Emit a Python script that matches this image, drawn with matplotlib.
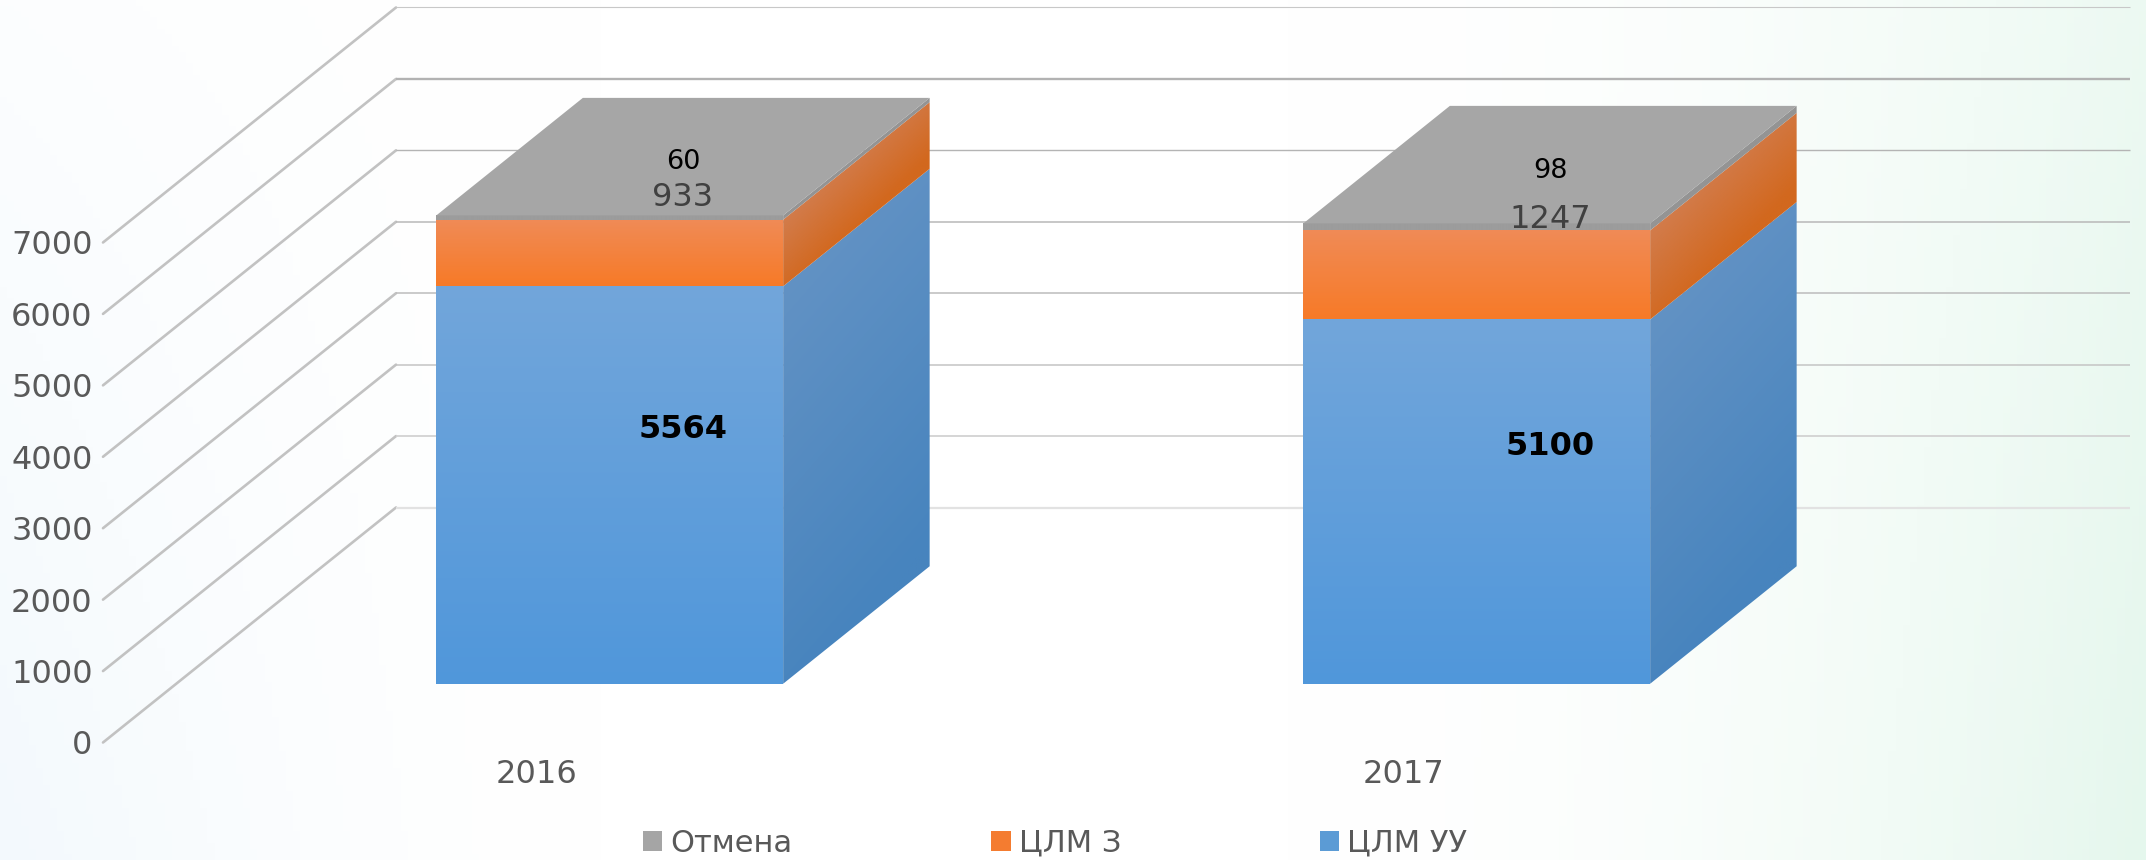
import numpy as np
import matplotlib
matplotlib.use("Agg")
import matplotlib.pyplot as plt
from matplotlib.colors import to_rgb
from matplotlib.patches import Patch, Polygon

# ---------- data ----------
categories = ["2016", "2017"]
series_names = ["ЦЛМ УУ", "ЦЛМ З", "Отмена"]
cluu = [5564, 5100]
clmz = [933, 1247]
cancel = [60, 98]
y_ticks = [0, 1000, 2000, 3000, 4000, 5000, 6000, 7000]

# ---------- style ----------
W, H = 2146, 860
X0_PX, Y0_PX = 103, 742.5        # origin of the front plane
CAT_PX, K_PX = 867, 71.43        # pixels per category / per 1000 units
DX = 293 / CAT_PX                # depth shear, category units
DY = 235 / K_PX * 1000           # depth shear, value units
BAR_W = 0.4
D0, D1 = 0.25, 0.75
TXT = "#595959"
grid_colors = ["#E2E2E2", "#D2D2D2", "#C4C4C4", "#BCBCBC", "#B8B8B8", "#B4B4B4", "#B2B2B2", "#C8C8C8"]
grid_widths = [1.6, 1.3, 1.1, 1.1, 1.1, 1.0, 1.7, 0.8]

FRONT = {"blue": ("#72A6DB", "#5097DA"), "orange": ("#F08B57", "#F77A27"), "grey": ("#9C9C9C", "#9C9C9C")}
SIDE = {"blue": ("#6292C4", "#4784BE"), "orange": ("#D27C4C", "#D2681E"), "grey": ("#949494", "#949494")}
TOP = "#A6A6A6"
LEGEND = {"ЦЛМ УУ": "#5B9BD5", "ЦЛМ З": "#F47C30", "Отмена": "#A5A5A5"}

fig = plt.figure(figsize=(W / 100, H / 100), dpi=100)
ax = fig.add_axes([0, 0, 1, 1])
xlim = (-X0_PX / CAT_PX, (W - X0_PX) / CAT_PX)
ylim = (-(H - Y0_PX) / K_PX * 1000, Y0_PX / K_PX * 1000)


def proj(x, y, d):
    return x + d * DX, y + d * DY


def fill_grad(poly_pts, field, c0, c1, z):
    """Fill a polygon with colour field(x, y) in 0..1 running c0 -> c1."""
    pts = np.array(poly_pts)
    x0, x1 = pts[:, 0].min(), pts[:, 0].max()
    y0, y1 = pts[:, 1].min(), pts[:, 1].max()
    xs = np.linspace(x0, x1, 200)
    ys = np.linspace(y0, y1, 400)
    X, Y = np.meshgrid(xs, ys)
    t = np.clip(field(X, Y), 0, 1)[..., None]
    img = (1 - t) * np.array(to_rgb(c0)) + t * np.array(to_rgb(c1))
    im = ax.imshow(img, extent=(x0, x1, y0, y1), origin="lower", aspect="auto",
                   zorder=z, interpolation="bilinear")
    patch = Polygon(pts, closed=True, transform=ax.transData, fc="none", ec="none")
    ax.add_patch(patch)
    im.set_clip_path(patch)


def label(x, y, s, **kw):
    ax.annotate(s, (x, y), xytext=(0, -2.3), textcoords="offset points",
                ha="center", va="center", zorder=5, **kw)


# ---------- background ----------
u, v = np.meshgrid(np.linspace(0, 1, 300), np.linspace(0, 1, 150))
left = np.clip(1 - u / 0.28, 0, 1) ** 1.6 * (0.25 + 0.75 * v)
right = np.clip((u - 0.6) / 0.4, 0, 1) ** 1.9 * (0.72 + 0.28 * v)
bg = np.ones(u.shape + (3,))
bg = bg * (1 - left[..., None]) + np.array(to_rgb("#F3F9FD")) * left[..., None]
bg = bg * (1 - right[..., None]) + np.array(to_rgb("#E5F7ED")) * right[..., None]
ax.imshow(bg, extent=(*xlim, ylim[1], ylim[0]), origin="lower", aspect="auto", zorder=0)

# ---------- walls ----------
for val, col, lw in zip(y_ticks, grid_colors, grid_widths):
    a = proj(0, val, 0)
    b = proj(0, val, 1)
    c = proj(2, val, 1)
    ax.plot([a[0], b[0]], [a[1], b[1]], color="#C2C2C2", lw=1.9, zorder=1, solid_capstyle="round")
    ax.plot([b[0], c[0]], [b[1], c[1]], color=col, lw=lw, zorder=1, solid_capstyle="butt")

# ---------- bars ----------
stack = [("blue", cluu), ("orange", clmz), ("grey", cancel)]
for i in range(len(categories)):
    xl = i + 0.5 - BAR_W / 2
    xr = xl + BAR_W
    base = 0
    for name, vals in stack:
        top = base + vals[i]
        # front face
        front = [proj(xl, base, D0), proj(xr, base, D0), proj(xr, top, D0), proj(xl, top, D0)]
        yb, yt = proj(0, base, D0)[1], proj(0, top, D0)[1]
        fill_grad(front, lambda X, Y, yb=yb, yt=yt: (yt - Y) / (yt - yb), *FRONT[name], 3)
        # side face
        side = [proj(xr, base, D0), proj(xr, base, D1), proj(xr, top, D1), proj(xr, top, D0)]
        xs0 = proj(xr, 0, D0)[0]
        span = DX * (D1 - D0)
        tilt = 0.12 if name == "blue" else 0.3

        def side_field(X, Y, xs0=xs0, span=span, yb=yb, yt=yt, tilt=tilt):
            w = (X - xs0) / span
            Yf = Y - w * (D1 - D0) * DY
            return (1 - tilt / 2) * (yt - Yf) / (yt - yb) + tilt * w

        fill_grad(side, side_field, *SIDE[name], 3)
        base = top
    # top face
    ax.add_patch(Polygon([proj(xl, base, D0), proj(xr, base, D0), proj(xr, base, D1), proj(xl, base, D1)],
                         closed=True, fc=TOP, ec="none", zorder=3))

    # data labels
    b1, b2 = cluu[i], clmz[i]
    label(*proj(i + 0.5, b1 / 2, 0.5), str(b1), fontsize=23, fontweight="bold", color="black")
    label(*proj(i + 0.5, b1 + b2 / 2, 0.5), str(b2), fontsize=23, color="#404040")
    label(*proj(i + 0.5, b1 + b2 + cancel[i] / 2, 0.5), str(cancel[i]), fontsize=19.5, color="black")

# ---------- axes ----------
ax.set_xlim(*xlim)
ax.set_ylim(*ylim)
for s in ax.spines.values():
    s.set_visible(False)
ax.spines["left"].set_position(("data", 0))
ax.spines["bottom"].set_position(("data", 0))
ax.set_yticks(y_ticks)
ax.set_yticklabels([str(t) for t in y_ticks])
ax.set_yticks(y_ticks)
ax.set_xticks([0.5, 1.5])
ax.set_xticklabels(categories)
ax.tick_params(axis="both", length=0, labelsize=23, labelcolor=TXT)
ax.tick_params(axis="y", pad=7.5)
ax.tick_params(axis="x", pad=12)
for t in ax.get_yticklabels():
    t.set_y(t.get_position()[1])
ax.patch.set_visible(False)

# ---------- legend ----------
order = ["Отмена", "ЦЛМ З", "ЦЛМ УУ"]
handles = [Patch(fc=LEGEND[n], ec="none", label=n) for n in order]
ax.legend(handles=handles, loc="center", bbox_to_anchor=(771 * 1.3686 / W, 1 - 843.5 / H),
          ncols=3, frameon=False, fontsize=22, labelcolor=TXT,
          handlelength=0.63, handleheight=0.63, handletextpad=0.27,
          columnspacing=6.5, borderpad=0, borderaxespad=0)

fig.savefig("out.png", dpi=100)
